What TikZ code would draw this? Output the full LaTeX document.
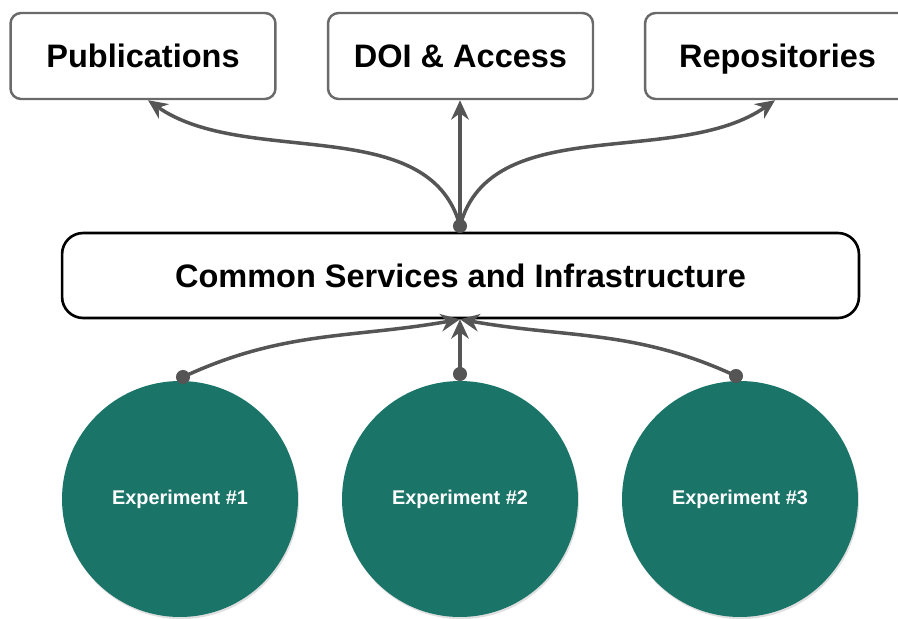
\documentclass[tikz,border=0pt]{standalone}
\usepackage{fontspec}
\setmainfont{Liberation Sans}
\usepackage{xcolor}
\usetikzlibrary{arrows.meta, positioning, shadows}
\definecolor{teal}{HTML}{1B7468}
\definecolor{linegray}{HTML}{555555}
\definecolor{boxgray}{HTML}{6A6A6A}

\begin{document}
\begin{tikzpicture}[x=0.02cm, y=-0.02cm, >={Stealth[length=11pt,width=10pt]}]
    \useasboundingbox (0,0) rectangle (898,618);
    \tikzset{
        topbox/.style={draw=boxgray, line width=1.4pt, rounded corners=6pt, fill=white,
            minimum width=5.3cm, minimum height=1.72cm, text height=16pt, text depth=2.8pt,
            font=\bfseries\fontsize{18.5}{20}\selectfont},
        mainbox/.style={draw=black, line width=1.5pt, rounded corners=12pt, fill=white,
            minimum width=15.94cm, minimum height=1.7cm, text height=16pt, text depth=2.8pt,
            font=\bfseries\fontsize{18.5}{20}\selectfont},
        expnode/.style={circle, fill=teal, text=white, minimum size=4.72cm, inner sep=0pt,
            font=\bfseries\fontsize{11.3}{13}\selectfont,
            drop shadow={opacity=0.25, shadow xshift=0.6pt, shadow yshift=-1.2pt}},
        link/.style={draw=linegray, line width=2pt},
        dot/.style={circle, fill=linegray, inner sep=0pt, minimum size=8pt}
    }

    % Outputs
    \node[topbox] (pub) at (143,56) {Publications};
    \node[topbox] (doi) at (460.5,56) {DOI \& Access};
    \node[topbox] (repo) at (777.5,56) {Repositories};

    % Shared layer
    \node[mainbox] (common) at (460.5,275.5) {Common Services and Infrastructure};

    % Experiments
    \node[expnode] (exp1) at (180,499) {Experiment \#1};
    \node[expnode] (exp2) at (460,499) {Experiment \#2};
    \node[expnode] (exp3) at (740,499) {Experiment \#3};

    % Connection points
    \coordinate (hub) at (460,226);
    \coordinate (src1) at (183,377);
    \coordinate (src2) at (460,374);
    \coordinate (src3) at (736,376);

    % Upward links to outputs
    \draw[link, ->] (hub) to[out=105, in=-35, looseness=0.9] ([xshift=0.1cm]pub.south);
    \draw[link, ->] (hub) -- (hub |- doi.south);
    \draw[link, ->] (hub) to[out=75, in=-145, looseness=0.9] ([xshift=-0.05cm]repo.south);

    % Experiments feeding the infrastructure
    \draw[link, ->] (src1) to[out=25, in=-170] (common.south -| hub);
    \draw[link, ->] (src2) -- (common.south -| hub);
    \draw[link, ->] (src3) to[out=155, in=-10] (common.south -| hub);

    \foreach \p in {hub, src1, src2, src3}
        \node[dot] at (\p) {};

\end{tikzpicture}
\end{document}
